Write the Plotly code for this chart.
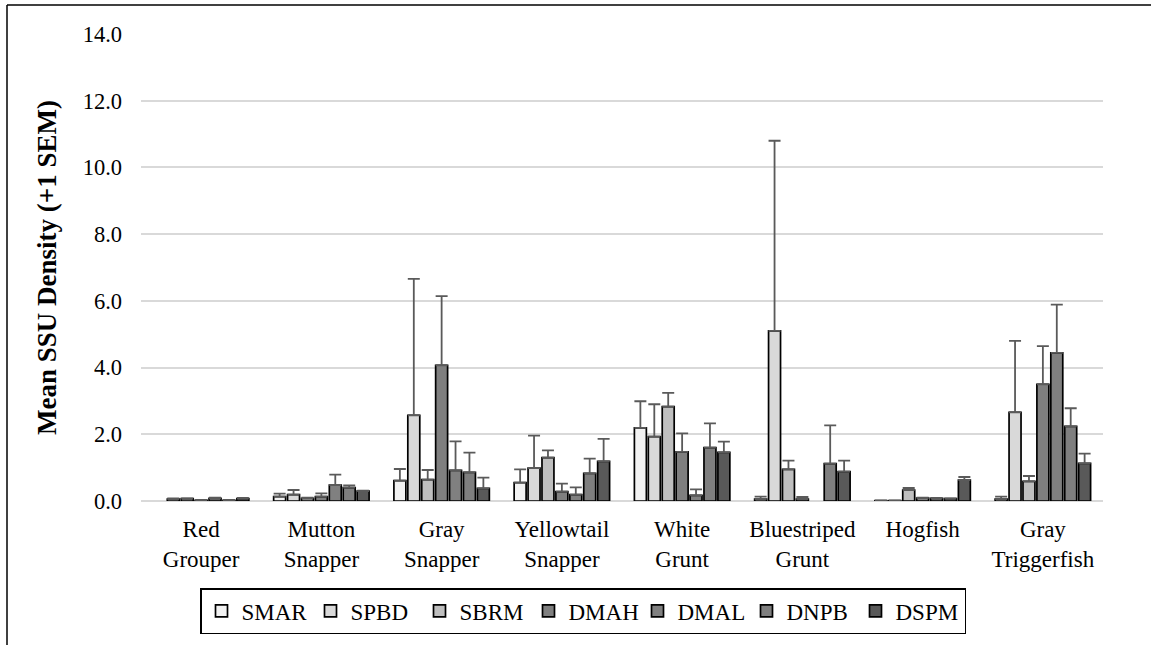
import plotly.graph_objects as go

categories = ["Red<br>Grouper", "Mutton<br>Snapper", "Gray<br>Snapper", "Yellowtail<br>Snapper",
              "White<br>Grunt", "Bluestriped<br>Grunt", "Hogfish", "Gray<br>Triggerfish"]

series_names = ["SMAR", "SPBD", "SBRM", "DMAH", "DMAL", "DNPB", "DSPM"]

SMAR = [None, 0.13, 0.61, 0.55, 2.19, 0.06, 0.01, 0.06]
SMAR_sem = [None, 0.09, 0.35, 0.40, 0.80, 0.07, 0.01, 0.07]
SPBD = [0.06, 0.19, 2.57, 0.99, 1.93, 5.10, 0.01, 2.66]
SPBD_sem = [0.02, 0.14, 4.09, 0.97, 0.97, 5.70, 0.01, 2.14]
SBRM = [0.07, 0.08, 0.64, 1.30, 2.83, 0.95, 0.33, 0.59]
SBRM_sem = [0.01, 0.02, 0.29, 0.22, 0.41, 0.26, 0.06, 0.16]
DMAH = [0.02, 0.13, 4.07, 0.28, 1.47, 0.06, 0.09, 3.50]
DMAH_sem = [0.01, 0.10, 2.07, 0.24, 0.56, 0.06, 0.01, 1.14]
DMAL = [0.08, 0.48, 0.92, 0.19, 0.17, None, 0.08, 4.44]
DMAL_sem = [0.02, 0.31, 0.87, 0.22, 0.18, None, 0.01, 1.45]
DNPB = [0.02, 0.40, 0.86, 0.83, 1.60, 1.12, 0.07, 2.24]
DNPB_sem = [0.01, 0.07, 0.59, 0.44, 0.73, 1.15, 0.01, 0.54]
DSPM = [0.07, 0.30, 0.38, 1.19, 1.46, 0.88, 0.63, 1.13]
DSPM_sem = [0.02, 0.01, 0.32, 0.67, 0.32, 0.33, 0.09, 0.29]

y_ticks = [0, 2, 4, 6, 8, 10, 12, 14]

means = [SMAR, SPBD, SBRM, DMAH, DMAL, DNPB, DSPM]
sems = [SMAR_sem, SPBD_sem, SBRM_sem, DMAH_sem, DMAL_sem, DNPB_sem, DSPM_sem]
colors = ["#F2F2F2", "#D9D9D9", "#BFBFBF", "#7F7F7F", "#808080", "#7F7F7F", "#595959"]

FONT = "Liberation Serif, Times New Roman, serif"

fig = go.Figure()
for name, m, s, c in zip(series_names, means, sems, colors):
    fig.add_trace(go.Bar(
        name=name, x=categories, y=m,
        marker=dict(color=c, line=dict(color="black", width=1.7)),
        error_y=dict(type="data", array=s, arrayminus=[0] * len(s), symmetric=False,
                     visible=True, color="#5A5A5A", thickness=1.8, width=6),
    ))

# plot area in pixels
L, R, T, B = 141, 1103, 34, 502
W, H = 1151, 645
pw, ph = R - L, B - T

def px(x):
    return (x - L) / pw

def py(y):
    return (B - y) / ph

fig.update_layout(
    width=W, height=H,
    margin=dict(l=L, r=W - R, t=T, b=H - B),
    paper_bgcolor="white", plot_bgcolor="white",
    barmode="group", bargap=0.19, bargroupgap=0.14,
    font=dict(family=FONT, size=23, color="black"),
    showlegend=True,
    legend=dict(
        orientation="h", x=px(200), y=py(588), xanchor="left", yanchor="top",
        bordercolor="black", borderwidth=1.5, bgcolor="white",
        font=dict(family=FONT, size=23, color="black"),
        entrywidth=64, entrywidthmode="pixels", itemwidth=30,
        traceorder="normal",
    ),
    shapes=[
        dict(type="line", xref="paper", yref="paper", x0=px(7), x1=px(7), y0=py(5), y1=py(660),
             line=dict(color="black", width=1.5)),
        dict(type="line", xref="paper", yref="paper", x0=px(7), x1=px(1170), y0=py(5), y1=py(5),
             line=dict(color="black", width=1.5)),
    ],
)

fig.update_yaxes(
    range=[0, 14], tickvals=y_ticks, tickformat=".1f",
    showgrid=True, gridcolor="#D9D9D9", gridwidth=1.5,
    zeroline=True, zerolinecolor="#D9D9D9", zerolinewidth=1.5,
    showline=False, ticks="", ticklabelstandoff=18,
    tickfont=dict(family=FONT, size=22.5, color="black"),
    title=dict(text="Mean SSU Density (+1 SEM)", standoff=18,
               font=dict(family=FONT, size=27, color="black", weight="bold")),
)
fig.update_xaxes(
    showgrid=False, showline=False, ticks="", ticklabelstandoff=12,
    tickfont=dict(family=FONT, size=23, color="black"),
)

fig.write_html("out.html", config={"displayModeBar": False},
               post_script="document.body.style.margin='0';")
